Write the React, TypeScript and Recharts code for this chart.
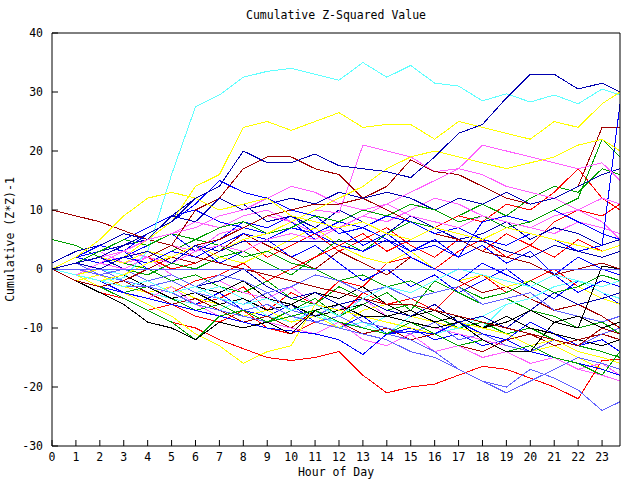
import React from 'react';
import { LineChart, Line, XAxis, YAxis } from 'recharts';

// hours of day (last point is the right edge of the plot)
const HOURS = [0, 1, 2, 3, 4, 5, 6, 7, 8, 9, 10, 11, 12, 13, 14, 15, 16, 17, 18, 19, 20, 21, 22, 23, 23.75];
const HOUR_TICKS = [0, 1, 2, 3, 4, 5, 6, 7, 8, 9, 10, 11, 12, 13, 14, 15, 16, 17, 18, 19, 20, 21, 22, 23];
const VALUE_TICKS = [-30, -20, -10, 0, 10, 20, 30, 40];

const RED = '#ff0000';
const DARK_RED = '#a00000';
const GREEN = '#00a000';
const BLUE = '#0000ff';
const DARK_BLUE = '#0000b0';
const LIGHT_BLUE = '#6060ff';
const MAGENTA = '#ff60ff';
const CYAN = '#60ffff';
const YELLOW = '#ffff00';
const BLACK = '#000000';

// upper group
const cyanHigh = [0, -1, -2, -1.5, 3, 16, 27.5, 29.5, 32.5, 33.5, 34, 33, 32, 35, 32.5, 34.5, 31.5, 31, 28.5, 29.7, 28.3, 29.5, 28, 30.5, 29.5];
const yellowHigh = [0, -1, 0, 2, 5, 8, 14, 16, 24, 25, 23.5, 25, 26.5, 24, 24.5, 24.5, 22, 25, 24, 23, 22, 25, 24, 28, 30];
const blueClimb = [0, 1, 2, 4, 6, 8, 12, 14, 20, 18, 18, 19.5, 17.5, 17, 16.5, 15.5, 19, 23, 24.5, 29, 33, 33, 30.5, 31.5, 30];
const magentaPeak = [0, -1, 1, 3, 2, 4, 3, 6, 7, 9, 8, 10, 9.5, 21, 20, 19, 16.5, 17, 16, 14, 13, 12, 10, 8, 5];
const darkRedPeak = [0, -1, 1, 0, 2, 4, 10, 12, 17, 19, 19, 17, 16, 12, 10, 8, 6, 5, 3, 2, 1, -1, 0, 1, 0];
const darkRedStart = [10, 9, 8, 6.5, 5, 4, 2, 1, 0, -1, -2, -3, -4, -5, -6, -6, -7, -8, -9, -10, -11, -12, -13, -10, -11];
const darkRedJump = [0, -2, -3, -2, 0, 2, 4, 5, 7, 9, 10, 11, 11, 12, 14, 18.5, 16.5, 16, 14, 12, 11, 12, 14, 24, 24];
const blueMid1 = [0, 1, 3, 4, 5, 9, 8, 12, 10, 11, 12, 11, 13, 12, 13, 12, 10, 12, 11, 13, 11, 12, 14, 16, 17];
const blueMid2 = [0, 2, 4, 3, 6, 8, 11, 15, 13, 12, 10, 9, 6, 7, 5, 3, 4, 2, 8, 9, 8, 10, 8, 6, 5];
const darkBlueFlat = [0, 1, 0, 2, 3, 1, 4, 3, 4.7, 4.7, 4.7, 4.7, 4.7, 4.7, 4.7, 4.7, 4.7, 4.7, 4.7, 3, 2, 4, 3, 2, 3];
const lightBlueZero = [0, 0, 0, 0, 0, 0, 0, 0, 0, 0, 0, 0, 0, 0, 0, 0, 0, 0, 0, 0, 0, 0, 0, 0, 0];
const blueLateJump = [0, 1, 0, 2, 1, 3, 2, 4, 6, 5, 7, 6, 8, 7, 9, 8, 6, 7, 5, 4, 6, 5, 3, 4, 28];
const greenLateRise = [0, 1, 3, 5, 4, 6, 5, 7, 8, 6, 7, 9, 8, 10, 9, 11, 10, 8, 9, 7, 8, 10, 12, 22, 19];
const magentaMid = [0, 1, 2, 3, 5, 6, 7, 9, 10, 12, 14, 13, 11, 10, 11, 9, 8, 7, 9, 8, 7, 9, 10, 12, 11];
const magentaLate = [0, -1, 1, 0, 2, 1, 3, 4, 3, 5, 6, 5, 7, 9, 11, 13, 15, 17, 21, 20, 19, 18, 17, 18, 15];
const yellowEarly = [0, 2, 5, 9, 12, 13, 12, 10, 11, 12, 9, 8, 7, 8, 6, 5, 7, 6, 5, 7, 6, 5, 4, 3, 4];
const yellowLate = [0, -1, -2, -1, 1, 2, 4, 3, 5, 6, 8, 10, 12, 14, 17, 19, 20, 19, 18, 17, 18, 19, 21, 22, 20];
const cyanLow = [0, -1, -2, -3, -2, -4, -3, -5, -6, -5, -7, -6, -8, -5, -3, -4, -2, 0, -1, -2, -3, -1, -2, -3, -2];

// lower group
const redLow = [0, -2, -4, -5, -7, -9, -10, -12, -13.5, -15, -15.5, -15, -14, -18, -21, -20, -19.5, -18, -16.5, -17, -18.5, -20, -22, -15.5, -15.3];
const yellowLow = [0, -1, -3, -4, -6, -8, -11, -13, -16, -14, -13, -6, -7, -8, -9, -10, -11, -9, -10, -11, -13, -12, -14, -15, -16];
const lightBlueLow1 = [0, -1, -2, -3, -3, -4, -6, -7, -8, -9, -8, -9, -10, -11, -12, -14, -15, -17, -19, -20, -17, -18.5, -20.5, -24, -22.5];
const lightBlueLow2 = [0, 0, -1, -2, -3, -2, -4, -5, -7, -6, -8, -9, -8, -10, -11, -12, -14, -17, -19, -21, -19, -17, -15, -16, -17];
const blueLowJump = [0, -2, -3, -4, -5, -6, -7, -8, -9, -10, -10.5, -11, -12, -14.5, -11, -10.6, -11, -9, -11, -12, -14, -15, -16, -17, -18];
const greenLow = [0, -2, -3, -5, -7, -9, -12, -8, -7, -9, -8, -7, -9, -10, -11, -9, -11, -13, -12, -14, -13, -15, -16, -18, -14];
const blackLow = [0, -2, -4, -6, -9, -10, -12, -9, -10, -9, -11, -7, -6, -8, -8, -9, -10, -9, -12, -14, -14, -9, -10, 0.5, 0];

// middle band
const redA = [0, 1, -1, -3, -2, -4, -6, -5, -3, -7, -4, -6, -2, -3, 1, 2, 0, 3, 5, 2, 4, 8, 10, 9, 11];
const greenA = [5, 4, 2, 1, 0, -2, -1, -3, -4, -2, -5, -6, -3, -5, -7, -6, -8, -10, -9, -11, -10, -12, -13, -14, -15];
const blueA = [0, -1, -2, -4, -3, -5, -6, -4, -7, -8, -6, -9, -10, -8, -11, -10, -12, -11, -13, -12, -9, -11, -13, -12, -14];
const magentaA = [0, 2, 3, 1, 2, -1, -3, -2, -4, -5, -3, -6, -7, -5, -8, -9, -10, -11, -12, -13, -14, -15, -17, -18, -19];
const cyanA = [0, -1, -2, -3, -4, -5, -6, -7, -5, -8, -9, -7, -10, -9, -11, -8, -7, -9, -10, -6, -5, -7, -8, -10, -9];
const yellowA = [0, -2, -1, -3, -4, -3, -5, -6, -8, -7, -9, -8, -10, -7, -6, -8, -9, -10, -11, -12, -14, -13, -15, -17, -18];
const blackA = [0, 1, -1, 0, -2, -1, -3, -4, -2, -5, -6, -4, -5, -3, -6, -8, -7, -9, -10, -8, -10, -11, -12, -13, -12];
const darkRedA = [0, -1, -3, -2, -4, -6, -5, -7, -9, -8, -10, -7, -9, -11, -10, -12, -11, -13, -14, -12, -11, -13, -12, -11, -12];
const redB = [0, 2, 1, 3, 2, 0, 1, 3, 5, 2, 4, 6, 3, 5, 7, 4, 2, 5, 3, 6, 4, 2, 5, 3, 4];
const greenB = [0, 1, 2, 0, -1, 1, 0, 2, 3, 1, -1, 2, 5, 3, 6, 8, 7, 9, 11, 9, 12, 14, 13, 17, 16];
const blueB = [0, 2, 1, 3, 0, 2, 4, 1, 3, 5, 2, 4, 1, -2, 0, -3, -1, -4, -2, 0, -3, -5, -2, -4, -6];
const lightBlueA = [0, -1, 0, -2, -3, -2, -4, -5, -6, -4, -7, -8, -6, -9, -10, -11, -9, -12, -11, -13, -14, -12, -13, -11, -10];
const magentaB = [0, 1, 3, 5, 4, 6, 8, 7, 9, 10, 8, 6, 7, 9, 8, 10, 12, 11, 9, 8, 7, 6, 8, 7, 6];
const magentaC = [0, -1, -3, -4, -5, -3, -6, -8, -7, -9, -10, -11, -9, -12, -13, -11, -14, -13, -15, -14, -16, -15, -17, -16, -18];
const darkRedB = [0, 1, -1, -2, 0, 2, 1, 3, 6, 4, 2, 0, 3, 1, -1, 2, 0, -2, -4, -3, -5, -7, -6, -8, -10];
const redC = [0, -2, -4, -5, -7, -6, -8, -9, -7, -10, -11, -9, -8, -4, -6, -5, -7, -3, -1, -4, -2, 0, -3, -1, -2];
const greenC = [0, -1, -3, -4, -3, -5, -7, -6, -8, -9, -7, -5, -8, -6, -4, -7, -2, -4, -6, -5, -7, -8, -10, -9, -11];
const cyanB = [0, 1, 0, -1, -3, -2, -4, -3, -5, -7, -6, -8, -9, -10, -8, -9, -11, -10, -8, -6, -5, -3, -2, -4, -5];
const yellowB = [0, 1, 2, 1, 3, 2, 4, 2, 1, 3, 5, 7, 4, 2, 1, 3, 0, -2, -1, -3, -2, -4, -3, -5, -6];
const blueC = [0, -1, 1, 2, 4, 6, 3, 5, 8, 7, 9, 6, 4, 3, 5, 2, 0, -2, 1, -1, -3, -1, -4, -2, -3];
const redD = [0, -1, -2, -1, -3, -4, -2, -1, 1, -2, 0, 2, 4, 6, 3, 5, 7, 9, 8, 11, 10, 13, 17, 12, 10];
const darkBlueA = [0, 1, 2, 0, -2, -1, -3, -2, 0, -3, -5, -4, -6, -5, -7, -8, -6, -9, -8, -10, -7, -4, -6, -5, -4];
const greenD = [0, 1, 0, 2, 1, 3, 5, 4, 2, 3, 1, 0, -2, -1, -3, -2, -4, -3, -5, -4, -2, -4, -3, -1, -2];
const lightBlueB = [0, 1, -1, 0, -2, -1, -3, -1, -2, -4, -3, -1, -2, -4, -3, -5, -4, -3, -6, -5, -4, -7, -8, -9, -8];
const blackB = [0, -1, -2, -1, -3, -5, -4, -6, -5, -7, -6, -8, -7, -6, -8, -7, -9, -8, -10, -9, -7, -9, -8, -10, -9];
const blueD = [0, 2, 3, 5, 7, 9, 10, 8, 7, 6, 8, 5, 7, 4, 6, 3, 5, 2, 4, 1, 3, -1, 2, 0, -1];
const blueE = [1, 3, 4, 6, 5, 9, 12, 10, 11, 8, 9, 7, 10, 8, 6, 9, 7, 5, 6, 8, 5, 7, 6, 4, 5];

const SERIES = [
  { key: 'redA', color: RED, values: redA },
  { key: 'greenA', color: GREEN, values: greenA },
  { key: 'blueA', color: BLUE, values: blueA },
  { key: 'magentaA', color: MAGENTA, values: magentaA },
  { key: 'cyanA', color: CYAN, values: cyanA },
  { key: 'yellowA', color: YELLOW, values: yellowA },
  { key: 'blackA', color: BLACK, values: blackA },
  { key: 'darkRedA', color: DARK_RED, values: darkRedA },
  { key: 'redB', color: RED, values: redB },
  { key: 'greenB', color: GREEN, values: greenB },
  { key: 'blueB', color: BLUE, values: blueB },
  { key: 'lightBlueA', color: LIGHT_BLUE, values: lightBlueA },
  { key: 'magentaB', color: MAGENTA, values: magentaB },
  { key: 'magentaC', color: MAGENTA, values: magentaC },
  { key: 'darkRedB', color: DARK_RED, values: darkRedB },
  { key: 'redC', color: RED, values: redC },
  { key: 'greenC', color: GREEN, values: greenC },
  { key: 'cyanB', color: CYAN, values: cyanB },
  { key: 'yellowB', color: YELLOW, values: yellowB },
  { key: 'blueC', color: BLUE, values: blueC },
  { key: 'redD', color: RED, values: redD },
  { key: 'darkBlueA', color: DARK_BLUE, values: darkBlueA },
  { key: 'greenD', color: GREEN, values: greenD },
  { key: 'lightBlueB', color: LIGHT_BLUE, values: lightBlueB },
  { key: 'blackB', color: BLACK, values: blackB },
  { key: 'blueD', color: BLUE, values: blueD },
  { key: 'blueE', color: DARK_BLUE, values: blueE },
  { key: 'redLow', color: RED, values: redLow },
  { key: 'yellowLow', color: YELLOW, values: yellowLow },
  { key: 'lightBlueLow1', color: LIGHT_BLUE, values: lightBlueLow1 },
  { key: 'lightBlueLow2', color: LIGHT_BLUE, values: lightBlueLow2 },
  { key: 'blueLowJump', color: BLUE, values: blueLowJump },
  { key: 'greenLow', color: GREEN, values: greenLow },
  { key: 'blackLow', color: BLACK, values: blackLow },
  { key: 'cyanHigh', color: CYAN, values: cyanHigh },
  { key: 'yellowHigh', color: YELLOW, values: yellowHigh },
  { key: 'magentaPeak', color: MAGENTA, values: magentaPeak },
  { key: 'darkRedPeak', color: DARK_RED, values: darkRedPeak },
  { key: 'darkRedStart', color: DARK_RED, values: darkRedStart },
  { key: 'darkRedJump', color: DARK_RED, values: darkRedJump },
  { key: 'blueMid1', color: DARK_BLUE, values: blueMid1 },
  { key: 'blueMid2', color: BLUE, values: blueMid2 },
  { key: 'blueLateJump', color: BLUE, values: blueLateJump },
  { key: 'greenLateRise', color: GREEN, values: greenLateRise },
  { key: 'magentaMid', color: MAGENTA, values: magentaMid },
  { key: 'magentaLate', color: MAGENTA, values: magentaLate },
  { key: 'yellowEarly', color: YELLOW, values: yellowEarly },
  { key: 'yellowLate', color: YELLOW, values: yellowLate },
  { key: 'cyanLow', color: CYAN, values: cyanLow },
  { key: 'blueClimb', color: DARK_BLUE, values: blueClimb },
  { key: 'darkBlueFlat', color: DARK_BLUE, values: darkBlueFlat },
  { key: 'lightBlueZero', color: LIGHT_BLUE, values: lightBlueZero },
];

const data = HOURS.map((h, i) => {
  const row: Record<string, number> = { h };
  SERIES.forEach((s) => {
    row[s.key] = s.values[i];
  });
  return row;
});

const FONT = '"DejaVu Sans Mono", monospace';
const tickStyle = { fontFamily: FONT, fontSize: 11.5, fill: '#000' };

export default function App() {
  return (
    <div style={{ position: 'absolute', left: 0, top: 0, width: 640, height: 480, background: '#fff' }}>
      <div
        style={{
          position: 'absolute', left: 52, top: 9, width: 568, textAlign: 'center',
          fontFamily: FONT, fontSize: 11.5, lineHeight: '13px', color: '#000',
        }}
      >
        Cumulative Z-Squared Value
      </div>
      <div
        style={{
          position: 'absolute', left: 52, top: 466, width: 568, textAlign: 'center',
          fontFamily: FONT, fontSize: 11.5, lineHeight: '13px', color: '#000',
        }}
      >
        Hour of Day
      </div>
      <div style={{ position: 'absolute', left: 10, top: 240, width: 0, height: 0 }}>
        <div
          style={{
            position: 'absolute', left: -100, top: -7, width: 200, textAlign: 'center',
            transform: 'rotate(-90deg)', fontFamily: FONT, fontSize: 11.5, lineHeight: '13px',
            color: '#000', whiteSpace: 'nowrap',
          }}
        >
          Cumulative (Z*Z)-1
        </div>
      </div>
      <LineChart
        width={640}
        height={480}
        data={data}
        margin={{ top: 32, right: 19, bottom: 0, left: 0 }}
        style={{ position: 'absolute', left: 0, top: 0 }}
      >
        <XAxis
          dataKey="h"
          type="number"
          domain={[0, 23.75]}
          allowDataOverflow
          ticks={HOUR_TICKS}
          interval={0}
          height={34}
          tickSize={-6}
          tickMargin={13}
          tick={tickStyle}
          axisLine={{ stroke: '#000' }}
          tickLine={{ stroke: '#000' }}
        />
        <XAxis
          xAxisId="top"
          orientation="top"
          type="number"
          domain={[0, 23.75]}
          allowDataOverflow
          ticks={HOUR_TICKS}
          interval={0}
          height={1}
          tickSize={-6}
          tick={false}
          axisLine={{ stroke: '#000' }}
          tickLine={{ stroke: '#000' }}
        />
        <YAxis
          type="number"
          domain={[-30, 40]}
          allowDataOverflow
          ticks={VALUE_TICKS}
          interval={0}
          width={52}
          tickSize={-6}
          tickMargin={15}
          tick={tickStyle}
          axisLine={{ stroke: '#000' }}
          tickLine={{ stroke: '#000' }}
        />
        <YAxis
          yAxisId="right"
          orientation="right"
          type="number"
          domain={[-30, 40]}
          allowDataOverflow
          ticks={VALUE_TICKS}
          interval={0}
          width={1}
          tickSize={-6}
          tick={false}
          axisLine={{ stroke: '#000' }}
          tickLine={{ stroke: '#000' }}
        />
        {SERIES.map((s) => (
          <Line
            key={s.key}
            dataKey={s.key}
            type="linear"
            stroke={s.color}
            strokeWidth={1}
            shapeRendering="crispEdges"
            dot={false}
            activeDot={false}
            isAnimationActive={false}
          />
        ))}
      </LineChart>
    </div>
  );
}
